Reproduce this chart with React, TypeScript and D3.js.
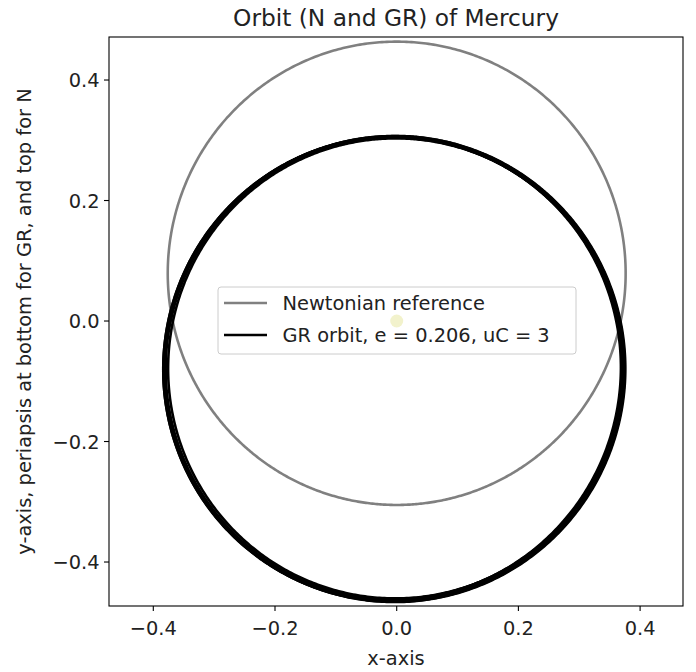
import React from "react";
import * as d3 from "d3";

// ---- data ----
const X_TICKS = [-0.4, -0.2, 0.0, 0.2, 0.4];
const Y_TICKS = [-0.4, -0.2, 0.0, 0.2, 0.4];
const X_DOMAIN = [-0.4728, 0.4705];
const Y_DOMAIN = [-0.473, 0.4714];
const ECCENTRICITY = 0.206;
const UC = 3;
// Newtonian orbit: semi-major axis, periapsis direction (deg, math convention)
const N_SEMI_MAJOR = [0.3845];
const N_PERIAPSIS_DEG = [-90];
// GR orbit: successive revolutions, slight precession / drift
const GR_SEMI_MAJOR = [0.3818, 0.3864, 0.3830, 0.3856, 0.3842, 0.3868];
const GR_PERIAPSIS_DEG = [88.5, 87.5, 86.5, 85.5, 84.5, 88];
const LEGEND_LABELS = ["Newtonian reference", `GR orbit, e = ${ECCENTRICITY}, uC = ${UC}`];
const TITLE = "Orbit (N and GR) of Mercury";

const W = 696;
const H = 672;
const M = { left: 109, right: 683, top: 37, bottom: 606 };
const FONT = "DejaVu Sans, sans-serif";
const FS = 19.4;

const fmt = (v: number) => d3.format(".1f")(v).replace("-", "\u2212");

function orbitPoints(a: number, e: number, periDeg: number): [number, number][] {
  const p = a * (1 - e * e);
  const w = (periDeg * Math.PI) / 180;
  const thetas = d3.range(0, 721).map((i) => (i / 720) * 2 * Math.PI);
  return thetas.map((t) => {
    const r = p / (1 + e * Math.cos(t - w));
    return [r * Math.cos(t), r * Math.sin(t)];
  });
}

export default function App() {
  const x = d3.scaleLinear().domain(X_DOMAIN).range([M.left, M.right]);
  const y = d3.scaleLinear().domain(Y_DOMAIN).range([M.bottom, M.top]);
  const line = d3
    .line<[number, number]>()
    .x((d) => x(d[0]))
    .y((d) => y(d[1]))
    .curve(d3.curveLinear);

  const nPaths = N_SEMI_MAJOR.map((a, i) => line(orbitPoints(a, ECCENTRICITY, N_PERIAPSIS_DEG[i]))!);
  const grPaths = GR_SEMI_MAJOR.map((a, i) => line(orbitPoints(a, ECCENTRICITY, GR_PERIAPSIS_DEG[i]))!);

  const lgX = 218;
  const lgY = 287;
  const lgW = 358;
  const lgH = 67;

  return (
    <svg width={W} height={H} style={{ display: "block", position: "absolute", left: 0, top: 0, background: "#fff" }} fontFamily={FONT}>
      <rect x={0} y={0} width={W} height={H} fill="#fff" />
      <defs>
        <clipPath id="plotclip">
          <rect x={M.left} y={M.top} width={M.right - M.left} height={M.bottom - M.top} />
        </clipPath>
      </defs>
      <g clipPath="url(#plotclip)">
        {nPaths.map((d, i) => (
          <path key={"n" + i} d={d} fill="none" stroke="#808080" strokeWidth={2.6} />
        ))}
        {grPaths.map((d, i) => (
          <path key={"g" + i} d={d} fill="none" stroke="#000" strokeWidth={2.6} />
        ))}
        <circle cx={x(0)} cy={y(0)} r={6.5} fill="#bfbf00" />
      </g>
      {/* frame */}
      <rect x={M.left} y={M.top} width={M.right - M.left} height={M.bottom - M.top} fill="none" stroke="#000" strokeWidth={1.1} />
      {/* x ticks */}
      {X_TICKS.map((t) => (
        <g key={"xt" + t}>
          <line x1={x(t)} x2={x(t)} y1={M.bottom} y2={M.bottom + 5} stroke="#000" strokeWidth={1.1} />
          <text x={x(t)} y={M.bottom + 29} fontSize={FS} textAnchor="middle" fill="#222">
            {fmt(t)}
          </text>
        </g>
      ))}
      {/* y ticks */}
      {Y_TICKS.map((t) => (
        <g key={"yt" + t}>
          <line x1={M.left - 5} x2={M.left} y1={y(t)} y2={y(t)} stroke="#000" strokeWidth={1.1} />
          <text x={M.left - 9.5} y={y(t) + 7} fontSize={FS} textAnchor="end" fill="#222">
            {fmt(t)}
          </text>
        </g>
      ))}
      {/* labels */}
      <text x={(M.left + M.right) / 2} y={26} fontSize={23.3} textAnchor="middle" fill="#222">
        {TITLE}
      </text>
      <text x={(M.left + M.right) / 2} y={665} fontSize={FS} textAnchor="middle" fill="#222">
        x-axis
      </text>
      <text transform={`translate(31,${(M.top + M.bottom) / 2}) rotate(-90)`} fontSize={FS} textAnchor="middle" fill="#222">
        y-axis, periapsis at bottom for GR, and top for N
      </text>
      {/* legend */}
      <rect x={lgX} y={lgY} width={lgW} height={lgH} rx={3} fill="#fff" fillOpacity={0.8} stroke="#cccccc" strokeWidth={1} />
      {LEGEND_LABELS.map((lab, i) => (
        <g key={"lg" + i}>
          <line x1={lgX + 6} x2={lgX + 49} y1={lgY + 16 + i * 32} y2={lgY + 16 + i * 32} stroke={i === 0 ? "#808080" : "#000"} strokeWidth={2.6} />
          <text x={lgX + 64.5} y={lgY + 23 + i * 32} fontSize={FS} fill="#222">
            {lab}
          </text>
        </g>
      ))}
    </svg>
  );
}
